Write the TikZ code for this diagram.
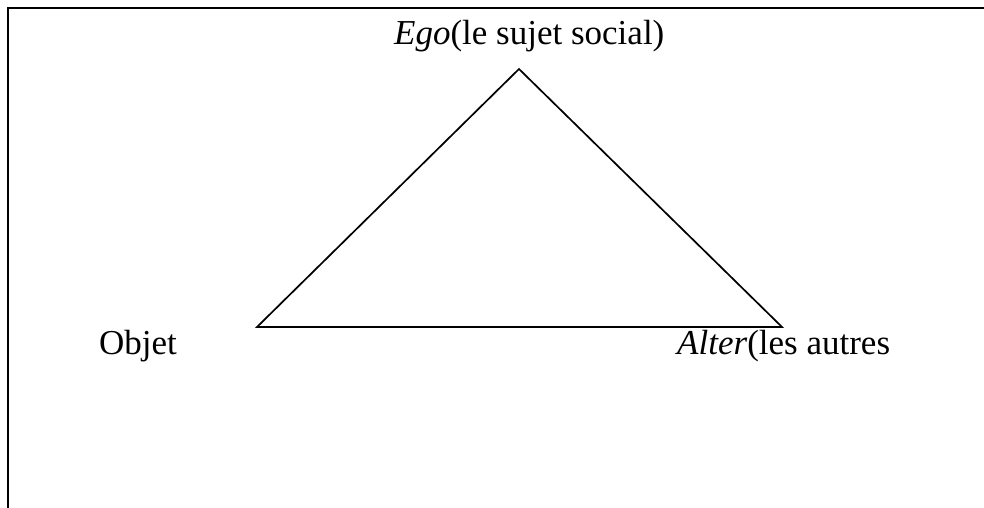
\documentclass[tikz,border=0pt]{standalone}
\usepackage{fontspec}
\setmainfont{Liberation Serif}
\usetikzlibrary{positioning}
\begin{document}
\begin{tikzpicture}[
    x=1pt, y=-1pt,
    texte/.style={anchor=base west, inner sep=0pt, font=\fontsize{35}{40}\selectfont},
    bord/.style={line width=2.6pt},
    cote/.style={line width=1.7pt, line join=miter}
  ]
  \useasboundingbox (0,0) rectangle (984,508);
  \draw[bord] (8,508) -- (8,8) -- (984,8);
  \coordinate (sommet) at (519,69);
  \coordinate (gauche) at (257,327);
  \coordinate (droite) at (782,327);
  \draw[cote] (sommet) -- (gauche) -- (droite) -- cycle;
  \node[texte] (ego) at (394,45) {\textit{Ego}(le sujet social)};
  \node[texte] (objet) at (99,354) {Objet};
  \node[texte] (alter) at (677,354) {\textit{Alter}(les autres};
\end{tikzpicture}
\end{document}
